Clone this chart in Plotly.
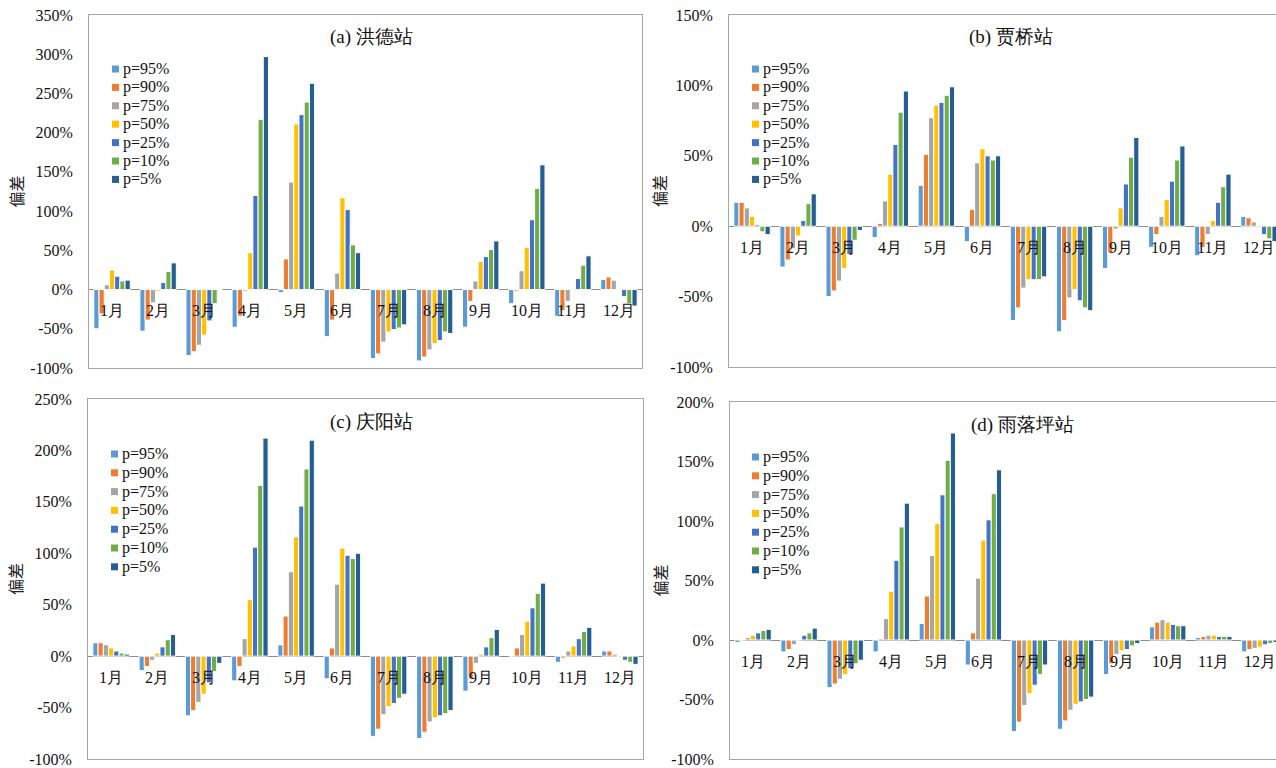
import plotly.graph_objects as go

W, H = 1276, 768

months = ["1月", "2月", "3月", "4月", "5月", "6月", "7月", "8月", "9月", "10月", "11月", "12月"]
series = ["p=95%", "p=90%", "p=75%", "p=50%", "p=25%", "p=10%", "p=5%"]
colors = ["#5B9BD5", "#ED7D31", "#A5A5A5", "#FFC000", "#4472C4", "#70AD47", "#255E91"]

# rows = months, columns = series (p95, p90, p75, p50, p25, p10, p5), percent
hongde = [
    [-50, -31, 6, 25, 17, 11, 12],
    [-53, -39, -17, -2, 9, 23, 34],
    [-84, -79, -71, -58, -40, -18, 0],
    [-48, -34, -2, 47, 120, 217, 297],
    [-4, 39, 137, 211, 223, 239, 263],
    [-60, -39, 21, 117, 102, 57, 47],
    [-88, -82, -67, -54, -51, -49, -45],
    [-91, -86, -77, -69, -65, -54, -56],
    [-48, -15, 11, 36, 42, 51, 62],
    [-18, -2, 24, 54, 89, 129, 159],
    [-34, -27, -15, -1, 14, 31, 43],
    [13, 16, 12, 1, -9, -18, -21],
]
jiaqiao = [
    [17, 17, 13, 7, 1, -4, -6],
    [-29, -24, -16, -7, 4, 16, 23],
    [-50, -46, -39, -30, -20, -10, -3],
    [-8, 2, 18, 37, 58, 81, 96],
    [29, 51, 77, 86, 88, 93, 99],
    [-11, 12, 45, 55, 50, 47, 50],
    [-67, -58, -44, -38, -38, -38, -36],
    [-75, -67, -51, -45, -53, -58, -60],
    [-30, -19, -2, 13, 30, 49, 63],
    [-15, -6, 7, 19, 32, 47, 57],
    [-21, -15, -6, 4, 17, 28, 37],
    [7, 6, 3, -1, -6, -9, -11],
]
qingyang = [
    [13, 13, 11, 8, 5, 3, 2],
    [-14, -10, -4, 3, 9, 16, 21],
    [-58, -53, -45, -37, -26, -15, -7],
    [-24, -10, 17, 55, 106, 166, 212],
    [11, 39, 82, 116, 146, 182, 210],
    [-22, 8, 70, 105, 98, 95, 100],
    [-78, -71, -57, -49, -46, -41, -37],
    [-80, -74, -64, -60, -58, -56, -53],
    [-34, -22, -7, 2, 9, 18, 26],
    [0, 8, 21, 34, 47, 61, 71],
    [-6, -2, 5, 10, 17, 24, 28],
    [5, 5, 2, -1, -4, -6, -8],
]
yuluoping = [
    [-2, 0, 2, 4, 6, 8, 9],
    [-10, -8, -4, 0, 4, 6, 10],
    [-40, -37, -33, -29, -24, -20, -17],
    [-10, 1, 18, 41, 67, 95, 115],
    [14, 37, 71, 98, 122, 151, 174],
    [-21, 6, 52, 84, 101, 123, 143],
    [-77, -69, -55, -45, -38, -29, -21],
    [-75, -68, -59, -54, -52, -50, -48],
    [-29, -20, -12, -9, -8, -5, -3],
    [11, 15, 17, 15, 13, 12, 12],
    [2, 3, 4, 4, 3, 3, 3],
    [-10, -8, -7, -6, -4, -3, -2],
]

titles = ["(a) 洪德站", "(b) 贾桥站", "(c) 庆阳站", "(d) 雨落坪站"]
yranges = [[-100, 350], [-100, 150], [-100, 250], [-100, 200]]
ytitle = "偏差"

SERIF = "Liberation Serif"
CJK = "Noto Sans CJK SC"


def px(x):
    return x / W


def py(y):
    return 1 - y / H


# layout geometry (pixels)
panels = [
    dict(data=hongde, x0=89, x1=642, y0=15, y1=368, xr=[-0.5, 11.5], mirror=True,
         ytx=15, tx=371, ty=37, lx=112, ly=69, ldy=18.4),
    dict(data=jiaqiao, x0=729, x1=1276, y0=15, y1=367, xr=[-0.5, 11.37], mirror=False,
         ytx=659, tx=1011, ty=37, lx=752, ly=69, ldy=18.4),
    dict(data=qingyang, x0=88, x1=643, y0=399, y1=759, xr=[-0.5, 11.5], mirror=True,
         ytx=15, tx=371, ty=422, lx=111, ly=454, ldy=18.8),
    dict(data=yuluoping, x0=730, x1=1276, y0=402, y1=759, xr=[-0.5, 11.35], mirror=False,
         ytx=659, tx=1022, ty=425, lx=752, ly=457, ldy=18.8),
]

fig = go.Figure()
annotations = []
shapes = []
axes = {}
BORDER = "#A6A6A6"

for i, p in enumerate(panels):
    n = "" if i == 0 else str(i + 1)
    xa, ya = "x" + n, "y" + n
    for k, s in enumerate(series):
        fig.add_trace(go.Bar(
            x=months, y=[row[k] for row in p["data"]], name=s,
            marker=dict(color=colors[k], line=dict(color="white", width=1)),
            xaxis=xa, yaxis=ya, showlegend=False,
        ))
    tv = list(range(yranges[i][0], yranges[i][1] + 1, 50))
    axes["xaxis" + n] = dict(
        domain=[px(p["x0"]), px(p["x1"])], anchor=ya, type="category",
        range=p["xr"], showticklabels=False, ticks="", showgrid=False,
        showline=True, mirror=True, linecolor=BORDER, linewidth=1, fixedrange=True,
    )
    axes["yaxis" + n] = dict(
        domain=[py(p["y1"]), py(p["y0"])], anchor=xa, range=yranges[i],
        tickmode="array", tickvals=tv, ticktext=[f"{v}%" for v in tv],
        showgrid=False, zeroline=True, zerolinecolor="#8C8C8C", zerolinewidth=1,
        showline=True, mirror=p["mirror"], linecolor=BORDER, linewidth=1,
        ticks="", ticklabelstandoff=12, automargin=False, ticklabeloverflow="allow",
        tickfont=dict(family=SERIF, size=16, color="#111111"), fixedrange=True,
    )
    # month labels next to the zero line
    for m in months:
        annotations.append(dict(
            x=m, y=0, xref=xa, yref=ya, text=m, showarrow=False,
            yanchor="middle", yshift=-21,
            font=dict(family=SERIF, size=16, color="#111111"),
        ))
    # panel title
    annotations.append(dict(
        x=px(p["tx"]), y=py(p["ty"]), xref="paper", yref="paper", text=titles[i],
        showarrow=False, xanchor="center", yanchor="middle",
        font=dict(family=SERIF, size=19, color="#111111"),
    ))
    # y axis title
    annotations.append(dict(
        x=px(p["ytx"]), y=(py(p["y0"]) + py(p["y1"])) / 2, xref="paper", yref="paper",
        text=ytitle, showarrow=False, textangle=-90, xanchor="center", yanchor="middle",
        font=dict(family=CJK, size=16, color="#222222"),
    ))
    # legend (inside plot area, top-left)
    for k, s in enumerate(series):
        cy = p["ly"] + k * p["ldy"]
        shapes.append(dict(
            type="rect", xref="paper", yref="paper",
            x0=px(p["lx"]), x1=px(p["lx"] + 7), y0=py(cy + 3.5), y1=py(cy - 3.5),
            fillcolor=colors[k], line=dict(width=0),
        ))
        annotations.append(dict(
            x=px(p["lx"] + 9), y=py(cy), xref="paper", yref="paper", text=s,
            showarrow=False, xanchor="left", yanchor="middle",
            font=dict(family=SERIF, size=16, color="#111111"),
        ))

fig.update_layout(**axes)
fig.update_layout(
    width=W, height=H, margin=dict(l=0, r=0, t=0, b=0, autoexpand=False),
    paper_bgcolor="white", plot_bgcolor="white",
    font=dict(family=SERIF, size=16, color="#111111"),
    barmode="group", bargap=0.21, bargroupgap=0,
    annotations=annotations, shapes=shapes, showlegend=False,
)

fig.write_html(
    "out.html",
    config={"displayModeBar": False},
    post_script="document.body.style.margin='0';document.body.style.overflow='hidden';",
)
